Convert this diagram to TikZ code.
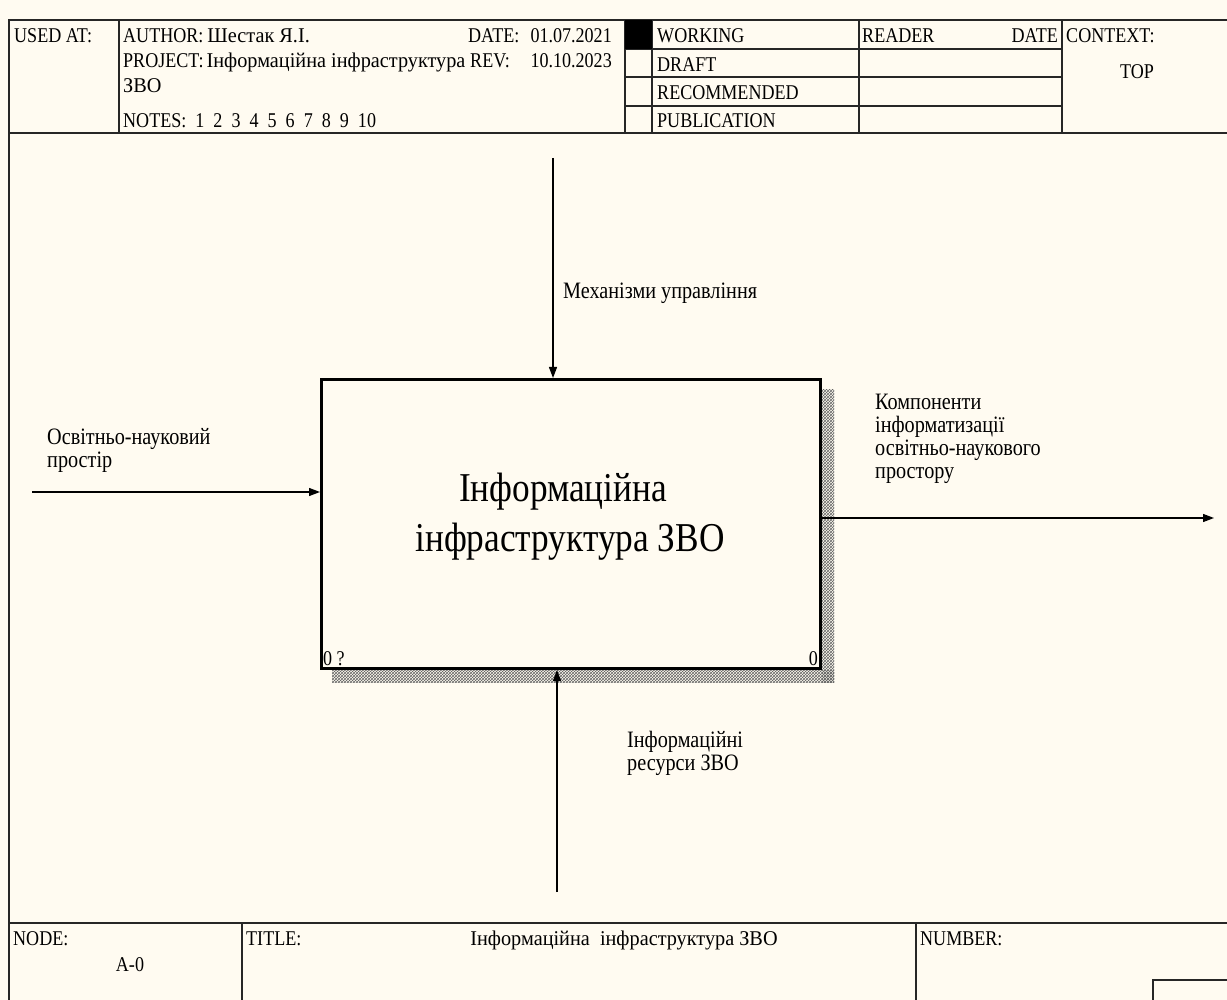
\documentclass[tikz,border=0pt]{standalone}
\usepackage{fontspec}
\setmainfont{Liberation Serif}[FakeStretch=0.86]
% Cyrillic entries in the form are set a little wider
\newfontfamily\cyrwide{Liberation Serif}[FakeStretch=0.965]
\usetikzlibrary{arrows.meta,patterns}
\definecolor{paper}{HTML}{FFFBF1}
\definecolor{rule}{HTML}{262626}
\newcommand\cyw{\cyrwide\fontsize{21}{25}\selectfont}
\begin{document}
\begin{tikzpicture}[x=1pt,y=-1pt,
  frame/.style={draw=rule,line width=1.4pt},
  small/.style={font=\fontsize{21}{25}\selectfont,inner sep=0pt},
  lbl/.style={font=\fontsize{23.5}{23}\selectfont,inner sep=0pt,align=left,anchor=north west},
  fbox/.style={draw=black,line width=3pt,fill=paper,minimum width=499pt,minimum height=289pt,inner sep=0pt},
  arr/.style={draw=black,line width=1.3pt,-{Triangle[length=11pt,width=8pt]}},
  shade/.style={pattern=crosshatch,pattern color=black!60}]
% sheet
\fill[paper] (0,0) rectangle (1227,1000);
\useasboundingbox (0,0) rectangle (1227,1000);

% header frame
\draw[frame] (9,1000) -- (9,20) -- (1227,20);
\draw[frame] (9,133) -- (1227,133);
\draw[frame] (119,20) -- (119,133);
\draw[frame] (625,20) -- (625,133);
\draw[frame] (652,20) -- (652,133);
\draw[frame] (859,20) -- (859,133);
\draw[frame] (1062,20) -- (1062,133);
\foreach \yy in {49,77,106} \draw[frame] (625,\yy) -- (1062,\yy);
\fill[black] (625,20) rectangle (652,49);

% header texts
\node[small,anchor=base west] (usedat) at (14,43) {USED AT:};
\node[small,anchor=base west] (author) at (123,43) {AUTHOR:\hspace{4pt}{\cyw Шестак Я.І.}};
\node[small,anchor=base west] (datel) at (468,43) {DATE:};
\node[small,anchor=base east] (datev) at (612,43) {01.07.2021};
\node[small,anchor=base west] (project) at (123,68) {PROJECT:\hspace{3pt}{\cyw Інформаційна інфраструктура}};
\node[small,anchor=base west] (revl) at (470,68) {REV:};
\node[small,anchor=base east] (revv) at (612,68) {10.10.2023};
\node[small,anchor=base west] (project2) at (123,93) {{\cyw ЗВО}};
\node[small,anchor=base west] (notes) at (123,128) {NOTES:\ \ 1\ \ 2\ \ 3\ \ 4\ \ 5\ \ 6\ \ 7\ \ 8\ \ 9\ \ 10};
\node[small,anchor=base west] (working) at (657,43) {WORKING};
\node[small,anchor=base west] (draft) at (657,72) {DRAFT};
\node[small,anchor=base west] (recom) at (657,100) {RECOMMENDED};
\node[small,anchor=base west] (publ) at (657,128) {PUBLICATION};
\node[small,anchor=base west] (reader) at (862,43) {READER};
\node[small,anchor=base east] (rdate) at (1058,43) {DATE};
\node[small,anchor=base west] (context) at (1066,43) {CONTEXT:};
\node[small,anchor=base] (top) at (1137,79) {TOP};

% activity box with its shadow
\fill[shade] (822,390) rectangle (834,682);
\fill[shade] (332,670) rectangle (834,682);
\node[fbox] (fn) at (571,524) {};
\node[font=\fontsize{41}{50}\selectfont,align=center,inner sep=0pt] (fntext) at (570,517)
  {Інформаційна\hspace*{14pt}\\інфраструктура ЗВО};
\node[small,anchor=south west,inner sep=0pt] (fnnum) at (323,666) {0 ?};
\node[small,anchor=south east,inner sep=0pt] (fncost) at (818,666) {0};

% arrows
\coordinate (inS) at (32,492);
\coordinate (outE) at (1214,518);
\coordinate (ctlS) at (553,158);
\coordinate (mecS) at (557,892);
\draw[arr] (inS) -- (fn.west |- inS);
\draw[arr] (fn.east |- outE) -- (outE);
\draw[arr] (ctlS) -- (ctlS |- fn.north);
\draw[arr] (mecS) -- (mecS |- fn.south);

% arrow labels
\node[lbl] (inlbl) at (47,428) {Освітньо-науковий\\простір};
\node[lbl] (outlbl) at (875,394) {Компоненти\\інформатизації\\освітньо-наукового\\простору};
\node[lbl] (ctllbl) at (563,283) {Механізми управління};
\node[lbl] (meclbl) at (627,731) {Інформаційні\\ресурси ЗВО};

% footer
\draw[frame] (9,923) -- (1227,923);
\draw[frame] (242,923) -- (242,1000);
\draw[frame] (916,923) -- (916,1000);
\draw[frame] (1227,980) -- (1153,980) -- (1153,1000);
\node[small,anchor=base west] (nodel) at (13,945) {NODE:};
\node[small,anchor=base] (nodev) at (130,971) {A-0};
\node[small,anchor=base west] (titlel) at (246,945) {TITLE:};
\node[small,anchor=base] (titlev) at (624,945) {{\cyw Інформаційна\ \ інфраструктура ЗВО}};
\node[small,anchor=base west] (numberl) at (920,945) {NUMBER:};
\end{tikzpicture}
\end{document}
